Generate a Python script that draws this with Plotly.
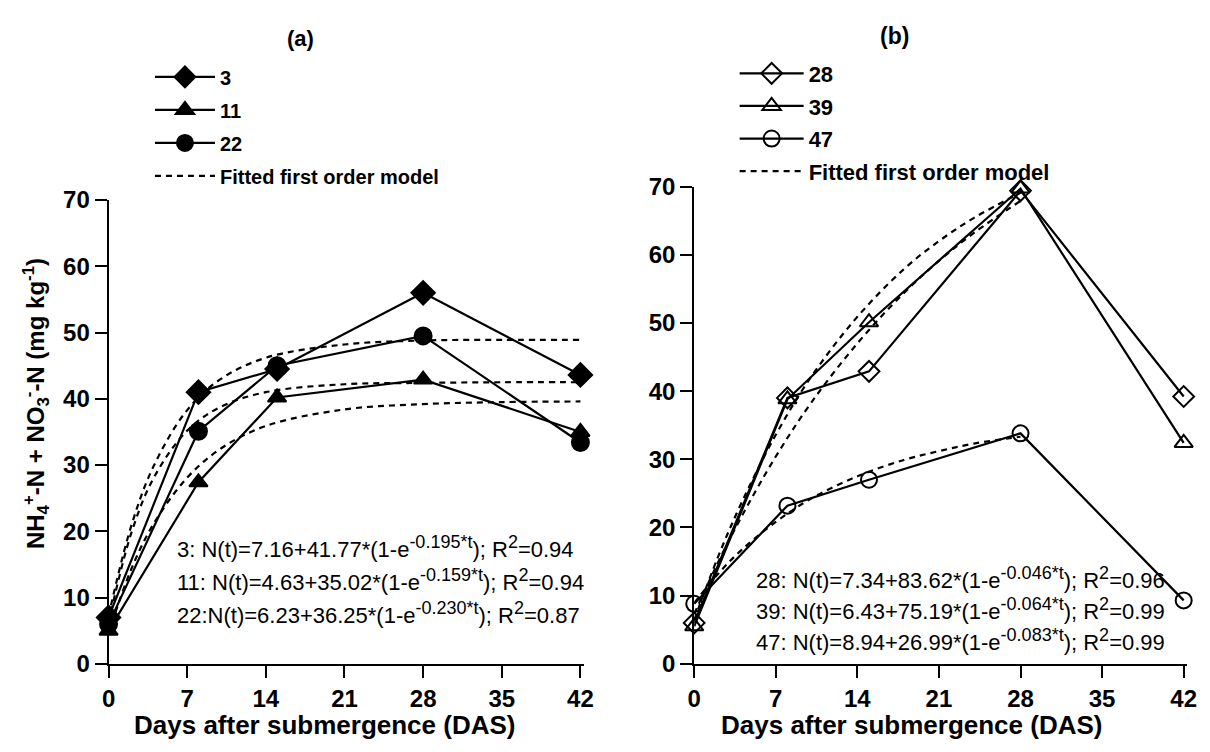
import plotly.graph_objects as go

W, H = 1210, 752
FONT = "Liberation Sans"

# ---------------- data ----------------
days = [0, 8, 15, 28, 42]

# panel (a) – filled markers
a_3 = [7.0, 41.0, 44.5, 56.0, 43.6]
a_11 = [5.0, 27.4, 40.2, 42.9, 35.0]
a_22 = [6.0, 35.1, 45.0, 49.5, 33.4]

# panel (b) – open markers
b_28 = [6.0, 39.0, 42.9, 69.4, 39.2]
b_39 = [5.5, 38.8, 50.1, 69.7, 32.4]
b_47 = [8.8, 23.2, 27.0, 33.8, 9.3]

# fitted first-order curves
fit_t_a = [0, 2, 4, 7, 10, 14, 21, 28, 35, 42]
fit_a_3 = [7.2, 20.7, 29.8, 38.3, 43.0, 46.2, 48.2, 48.8, 48.9, 48.9]
fit_a_11 = [4.6, 14.2, 21.1, 28.1, 32.5, 35.9, 38.4, 39.2, 39.5, 39.6]
fit_a_22 = [6.2, 19.6, 28.0, 35.2, 38.8, 41.0, 42.2, 42.4, 42.5, 42.5]

fit_t_b = [0, 2, 4, 7, 10, 14, 18, 21, 24, 28]
fit_b_28 = [7.3, 14.7, 21.4, 30.4, 38.2, 47.0, 54.4, 59.1, 63.2, 67.9]
fit_b_39 = [6.4, 15.5, 23.4, 33.6, 42.0, 50.9, 57.9, 62.0, 65.4, 69.1]
fit_b_47 = [8.9, 13.1, 16.6, 20.8, 24.2, 27.5, 29.9, 31.2, 32.3, 33.3]

x_ticks = [0, 7, 14, 21, 28, 35, 42]
y_ticks = [0, 10, 20, 30, 40, 50, 60, 70]

eq_a = [
    ("3: N(t)=7.16+41.77*(1-e", "-0.195*t", "0.94"),
    ("11: N(t)=4.63+35.02*(1-e", "-0.159*t", "0.94"),
    ("22:N(t)=6.23+36.25*(1-e", "-0.230*t", "0.87"),
]
eq_b = [
    ("28: N(t)=7.34+83.62*(1-e", "-0.046*t", "0.96"),
    ("39: N(t)=6.43+75.19*(1-e", "-0.064*t", "0.99"),
    ("47: N(t)=8.94+26.99*(1-e", "-0.083*t", "0.99"),
]

# ---------------- figure ----------------
fig = go.Figure()
BLK = "black"
DASH = "6px,5px"


def px_x(p):
    return p / W


def px_y(p):
    return 1 - p / H


def add_series(x, y, name, symbol, size, xa, ya, legend):
    fig.add_trace(go.Scatter(
        x=x, y=y, name=name, mode="lines+markers", legendgroup=legend + name,
        line=dict(color=BLK, width=2.2),
        marker=dict(symbol=symbol, size=size, color=BLK,
                    line=dict(color=BLK, width=2)),
        xaxis=xa, yaxis=ya, legend=legend, cliponaxis=False,
    ))


def add_fit(x, y, xa, ya, legend, show):
    fig.add_trace(go.Scatter(
        x=x, y=y, name="Fitted first order model", mode="lines",
        legendgroup=legend + "fit",
        line=dict(color=BLK, width=2.2, dash=DASH, shape="spline"),
        xaxis=xa, yaxis=ya, legend=legend, showlegend=show, cliponaxis=False,
    ))


add_series(days, a_3, "3", "diamond", 18, "x", "y", "legend")
add_series(days, a_11, "11", "triangle-up", 16, "x", "y", "legend")
add_series(days, a_22, "22", "circle", 17, "x", "y", "legend")
add_fit(fit_t_a, fit_a_3, "x", "y", "legend", True)
add_fit(fit_t_a, fit_a_11, "x", "y", "legend", False)
add_fit(fit_t_a, fit_a_22, "x", "y", "legend", False)

add_series(days, b_28, "28", "diamond-open", 16, "x2", "y2", "legend2")
add_series(days, b_39, "39", "triangle-up-open", 16, "x2", "y2", "legend2")
add_series(days, b_47, "47", "circle-open", 16, "x2", "y2", "legend2")
add_fit(fit_t_b, fit_b_28, "x2", "y2", "legend2", True)
add_fit(fit_t_b, fit_b_39, "x2", "y2", "legend2", False)
add_fit(fit_t_b, fit_b_47, "x2", "y2", "legend2", False)

axis_common = dict(
    showline=True, linecolor=BLK, linewidth=2, ticks="outside", ticklen=12,
    tickwidth=2, tickcolor=BLK, showgrid=False, zeroline=False,
    tickfont=dict(family=FONT, size=24, color=BLK),
)
xt = dict(tickvals=x_ticks, ticktext=[f"<b>{v}</b>" for v in x_ticks])
yt = dict(tickvals=y_ticks, ticktext=[f"<b>{v}</b>" for v in y_ticks])

fig.update_layout(
    width=W, height=H, margin=dict(l=0, r=0, t=0, b=0),
    paper_bgcolor="white", plot_bgcolor="white",
    font=dict(family=FONT, color=BLK),
    xaxis=dict(domain=[px_x(103), px_x(585)], range=[0, 42.3], anchor="y",
               **xt, **axis_common),
    yaxis=dict(domain=[px_y(674), px_y(193)], range=[0, 70], anchor="x",
               **yt, **axis_common),
    xaxis2=dict(domain=[px_x(697), px_x(1197)], range=[0, 42.3], anchor="y2",
                **xt, **axis_common),
    yaxis2=dict(domain=[px_y(674), px_y(179)], range=[0, 70], anchor="x2",
                **yt, **axis_common),
    legend=dict(x=px_x(145), y=px_y(45), xanchor="left", yanchor="top",
                font=dict(family=FONT, size=20, weight="bold"), itemwidth=60,
                tracegroupgap=4, traceorder="grouped",
                bgcolor="rgba(0,0,0,0)", borderwidth=0),
    legend2=dict(x=px_x(738), y=px_y(40), xanchor="left", yanchor="top",
                 font=dict(family=FONT, size=22, weight="bold"), itemwidth=64,
                 tracegroupgap=1, traceorder="grouped",
                 bgcolor="rgba(0,0,0,0)", borderwidth=0),
    showlegend=True,
)


def note(text, x, y, size, xanchor="center", **kw):
    fig.add_annotation(text=text, x=px_x(x), y=px_y(y), xref="paper", yref="paper",
                       xanchor=xanchor, yanchor="middle", showarrow=False,
                       font=dict(size=size), **kw)


# panel titles
note("<b>(a)</b>", 298, 25, 22)
note("<b>(b)</b>", 900, 23, 23)

# x-axis titles
for cx in (322, 917):
    note("<b>Days after submergence (DAS)</b>", cx, 737, 26)

# y-axis title
note("<b>NH<sub>4</sub><sup>+</sup>-N + NO<sub>3</sub><sup>-</sup>-N (mg kg<sup>-1</sup>)</b>",
     30, 404, 24, textangle=-90)


def eq_text(parts):
    head, expo, r2 = parts
    return (f"{head}<sup><span style='font-size:18px'>{expo}</span></sup>); "
            f"R<sup><span style='font-size:18px'>2</span></sup>={r2}")


# equations
for i, t in enumerate(eq_a):
    note(eq_text(t), 170, 553 + 34 * i, 22, xanchor="left")
for i, t in enumerate(eq_b):
    note(eq_text(t), 758, 585 + 32 * i, 22, xanchor="left")

fig.write_html("out.html")
